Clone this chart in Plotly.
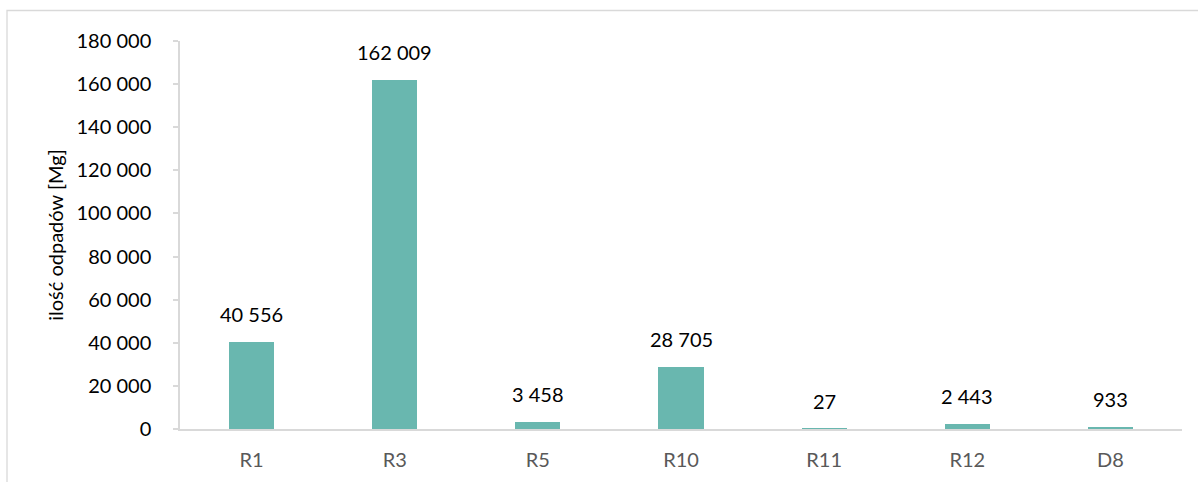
import plotly.graph_objects as go

categories = ["R1", "R3", "R5", "R10", "R11", "R12", "D8"]
values = [40556, 162009, 3458, 28705, 27, 2443, 933]
y_ticks = [0, 20000, 40000, 60000, 80000, 100000, 120000, 140000, 160000, 180000]

W, H = 1198, 482
L, R, T, B = 180, 16, 41, 53
FONT = "Lato"

def fmt(v):
    return f"{v:,}".replace(",", " ")

fig = go.Figure()
fig.add_trace(go.Bar(
    x=categories, y=values,
    marker=dict(color="#69B7AF", line=dict(width=0)),
    width=0.315,
))

for c, v in zip(categories, values):
    fig.add_annotation(x=c, y=v, text=fmt(v), showarrow=False,
                       yanchor="bottom", yshift=14,
                       font=dict(family=FONT, size=20, color="#000000"))

pw = W - L - R
ph = H - T - B
fig.add_shape(type="rect", xref="paper", yref="paper",
              x0=(7 - L) / pw, x1=(W + 5 - L) / pw,
              y0=-(H + 5 - T - ph) / ph, y1=1 + (T - 10.5) / ph,
              line=dict(color="#D9D9D9", width=1.3), layer="below")

fig.update_layout(
    width=W, height=H,
    margin=dict(l=L, r=R, t=T, b=B, autoexpand=False),
    plot_bgcolor="white", paper_bgcolor="white",
    separators=". ",
    showlegend=False,
    bargap=0,
    font=dict(family=FONT),
    xaxis=dict(
        showline=True, linecolor="#D9D9D9", linewidth=2,
        ticks="", showgrid=False, zeroline=False,
        tickfont=dict(family=FONT, size=20, color="#595959"),
        ticklabelstandoff=12,
    ),
    yaxis=dict(
        range=[0, 180000], tickvals=y_ticks,
        ticktext=[fmt(v) for v in y_ticks],
        showline=True, linecolor="#D9D9D9", linewidth=1.5,
        ticks="outside", ticklen=5, tickcolor="#D9D9D9", tickwidth=1.5,
        showgrid=False, zeroline=False,
        tickfont=dict(family=FONT, size=20, color="#000000"),
        ticklabelstandoff=18,
        title=dict(text="ilość odpadów [Mg]", standoff=8,
                   font=dict(family=FONT, size=20, color="#000000")),
    ),
)

fig.write_html("out.html")
